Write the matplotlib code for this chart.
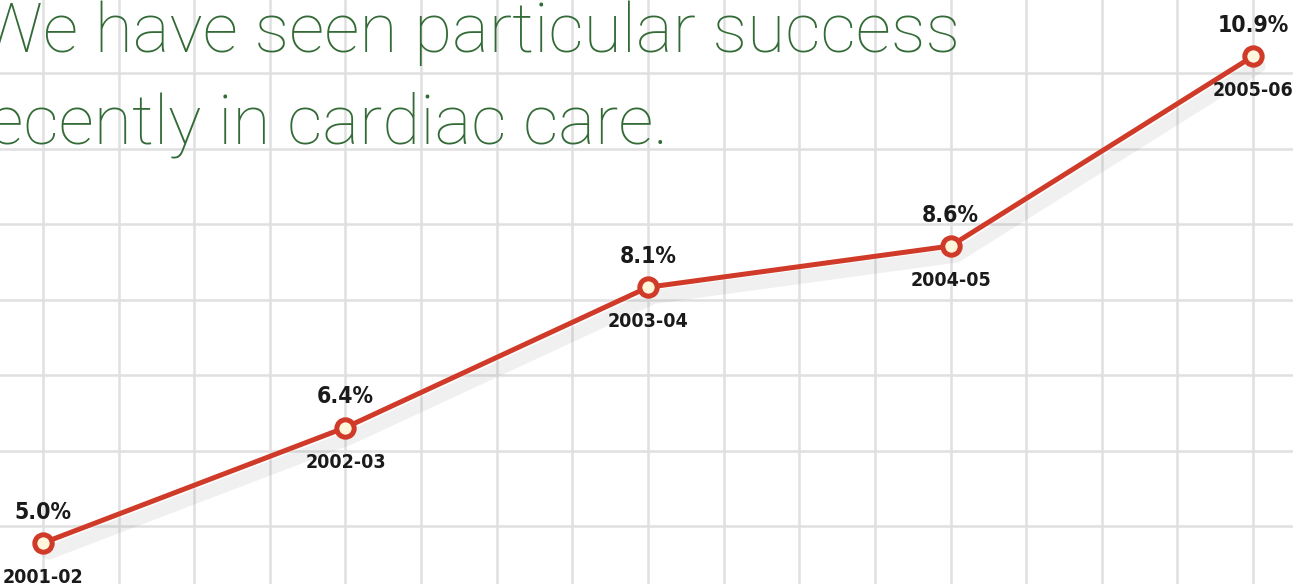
import numpy as np
import matplotlib
matplotlib.use("Agg")
import matplotlib.pyplot as plt
import matplotlib.patheffects as pe

# data
years = ["2001-02", "2002-03", "2003-04", "2004-05", "2005-06"]
share = [5.0, 6.4, 8.1, 8.6, 10.9]
share_labels = ["5.0%", "6.4%", "8.1%", "8.6%", "10.9%"]

title_lines = ["We have seen particular success", "recently in cardiac care."]

red = "#d03a28"
green = "#336b36"
label_col = "#1a1a1a"
grid_col = "#e0e0e0"

fig = plt.figure(figsize=(12.93, 5.84), dpi=100)
ax = fig.add_axes([0, 0, 1, 1])

x = np.arange(len(years))

# background graph paper (ticks first, limits after so they don't get widened)
ax.set_xticks(np.arange(0, 4.3, 0.25))
ax.set_yticks(np.arange(5.206 - 0.915, 11.6, 0.915))
ax.grid(True, color=grid_col, lw=1.8)
ax.tick_params(length=0, labelbottom=False, labelleft=False)
for s in ax.spines.values():
    s.set_visible(False)
ax.set_axisbelow(True)

# view limits so that the points sit where they do in the picture
ax.set_xlim(-0.142, 4.132)
ax.set_ylim(4.503, 11.582)

shadow = [pe.SimpleLineShadow(offset=(4, -7), shadow_color="0.45", alpha=0.10, linewidth=10),
          pe.Normal()]
ax.plot(x, share, color=red, lw=3.6, solid_capstyle="round", zorder=3,
        path_effects=shadow)
ax.plot(x, share, ls="none", marker="o", ms=12.5, mfc="#fff6dc", mec=red,
        mew=3.6, zorder=4)

lab_font = dict(family=["Liberation Sans Narrow", "DejaVu Sans"], weight="bold",
                stretch="condensed", color=label_col, ha="center", va="center",
                zorder=5)
for xi, v, sl, yr in zip(x, share, share_labels, years):
    ax.annotate(sl, (xi, v), xytext=(0, 22), textcoords="offset points",
                fontsize=16.5, **lab_font)
    ax.annotate(yr, (xi, v), xytext=(0, -25), textcoords="offset points",
                fontsize=14, **lab_font)

# big headline, cropped at the left edge like the original
head = dict(ha="right", va="baseline", fontsize=50,
            family=["Roboto", "DejaVu Sans"], weight=100, color=green)
fig.text(960 / 1293, 1 - 52 / 584, title_lines[0], **head)
fig.text(668 / 1293, 1 - 143 / 584, title_lines[1], **head)

fig.savefig("out.png", dpi=100)
